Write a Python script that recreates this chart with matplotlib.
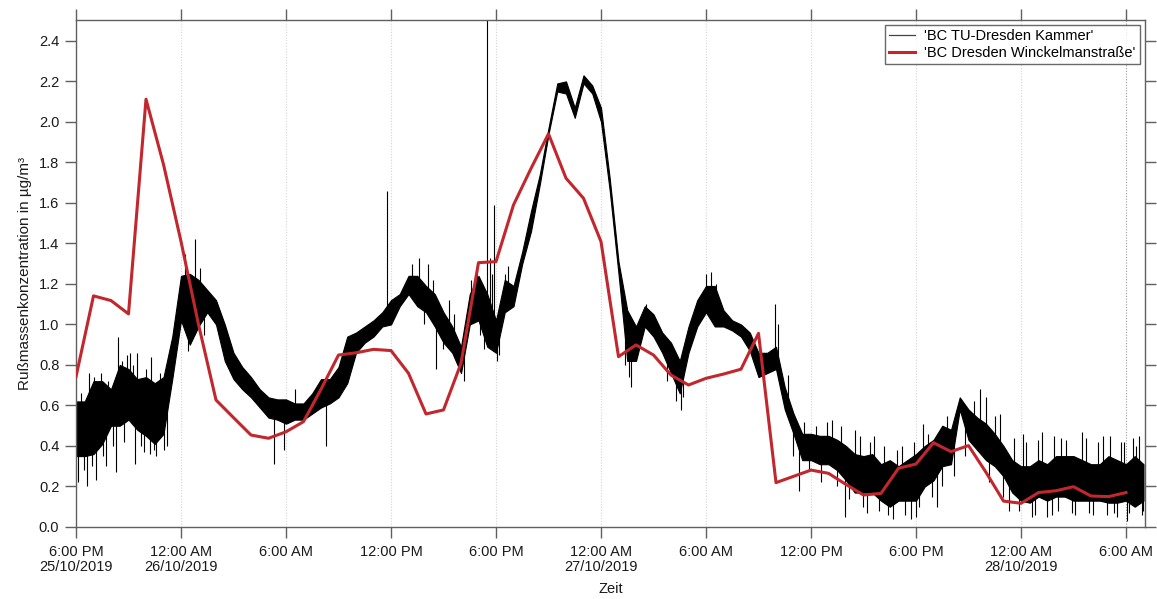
import matplotlib
matplotlib.use("Agg")
import matplotlib.pyplot as plt
import numpy as np

plt.rcParams['font.family'] = ['Liberation Sans', 'DejaVu Sans']

# ---- data (hours since 25/10/2019 18:00) ----
# 'BC TU-Dresden Kammer' : dense noisy trace, read as low/high envelope every 30 min
kammer_h = [i * 0.5 for i in range(123)]
kammer_low = [0.35, 0.35, 0.36, 0.41, 0.50, 0.50, 0.53, 0.48, 0.45, 0.41,
              0.46, 0.73, 1.02, 0.90, 0.99, 1.06, 1.00, 0.82, 0.73, 0.68,
              0.64, 0.59, 0.54, 0.53, 0.51, 0.53, 0.53, 0.56, 0.59, 0.61,
              0.64, 0.71, 0.86, 0.91, 0.94, 0.99, 1.00, 1.09, 1.15, 1.09,
              1.06, 0.99, 0.91, 0.86, 0.76, 1.00, 1.02, 0.89, 0.86, 1.06,
              1.09, 1.30, 1.46, 1.69, 1.94, 2.15, 2.14, 2.02, 2.19, 2.14,
              2.00, 1.66, 1.25, 0.82, 0.82, 0.99, 0.94, 0.86, 0.76, 0.66,
              0.86, 0.99, 1.06, 0.99, 0.99, 0.97, 0.94, 0.87, 0.74, 0.76,
              0.78, 0.58, 0.46, 0.33, 0.33, 0.31, 0.31, 0.28, 0.23, 0.17,
              0.17, 0.17, 0.13, 0.10, 0.13, 0.13, 0.13, 0.20, 0.23, 0.30,
              0.31, 0.58, 0.43, 0.38, 0.33, 0.30, 0.25, 0.17, 0.13, 0.12,
              0.15, 0.13, 0.15, 0.15, 0.13, 0.13, 0.13, 0.13, 0.12, 0.12,
              0.13, 0.10, 0.13]
kammer_high = [0.62, 0.62, 0.72, 0.72, 0.68, 0.80, 0.78, 0.73, 0.74, 0.71,
               0.74, 0.94, 1.24, 1.25, 1.22, 1.17, 1.12, 1.00, 0.86, 0.79,
               0.74, 0.68, 0.64, 0.63, 0.63, 0.61, 0.61, 0.66, 0.73, 0.73,
               0.79, 0.94, 0.96, 0.99, 1.02, 1.06, 1.12, 1.15, 1.24, 1.24,
               1.19, 1.15, 1.06, 0.99, 0.89, 1.15, 1.24, 1.15, 1.02, 1.22,
               1.19, 1.36, 1.56, 1.74, 1.97, 2.19, 2.20, 2.07, 2.23, 2.18,
               2.07, 1.72, 1.31, 1.07, 0.99, 1.09, 1.05, 0.96, 0.91, 0.82,
               0.99, 1.12, 1.19, 1.19, 1.07, 1.02, 1.00, 0.96, 0.86, 0.86,
               0.89, 0.69, 0.56, 0.46, 0.46, 0.45, 0.45, 0.43, 0.40, 0.36,
               0.35, 0.36, 0.31, 0.33, 0.30, 0.33, 0.36, 0.40, 0.43, 0.50,
               0.48, 0.64, 0.58, 0.54, 0.51, 0.46, 0.40, 0.33, 0.30, 0.30,
               0.33, 0.31, 0.35, 0.35, 0.35, 0.33, 0.31, 0.31, 0.35, 0.33,
               0.31, 0.35, 0.31]
# individual spikes of the Kammer trace beyond the dense band
spike_h = [0.1, 0.2, 0.3, 0.45, 0.6, 0.75, 0.9, 1.0, 1.15, 1.25, 1.4, 1.55, 1.7,
           1.85, 2.1, 2.3, 2.42, 2.6, 2.75, 2.9, 3.1, 3.25, 3.37, 3.5, 3.7,
           3.9, 4.0, 4.2, 4.3, 4.45, 4.6, 4.8, 5.0, 5.2,
           6.2, 6.4, 6.6, 6.8, 7.1, 7.3, 11.3, 11.9, 12.5, 14.3,
           17.75, 19.2, 19.6, 19.9, 20.1, 20.4, 20.6, 21.0, 21.3, 21.6, 22.2,
           22.6, 22.9, 23.1, 23.3, 23.51, 23.65, 23.75, 23.89, 24.05, 24.2,
           24.3, 24.5, 24.7,
           31.4, 31.6, 31.7, 31.8, 32.6, 33.8, 34.3, 34.6, 34.7, 35.7, 36.0,
           36.3, 36.6, 39.94, 40.1, 40.7, 41.0, 41.3, 41.6, 41.9,
           42.3, 42.6, 42.9, 43.2, 43.5, 43.7, 43.94, 44.2, 44.5, 44.8, 45.0,
           45.2, 45.4, 45.6, 45.9, 46.2, 46.4, 46.7, 46.9, 47.2, 47.4, 47.7,
           47.9, 48.0, 48.2, 48.4, 48.7, 48.9,
           49.2, 49.5, 49.8, 50.2, 50.8, 51.3, 51.66, 51.99, 52.2, 52.5, 52.8,
           53.0, 53.3, 53.6, 53.9, 54.1, 54.3, 54.6, 54.8, 55.0, 55.2, 55.5,
           55.8, 55.9, 56.1, 56.3, 56.6, 56.9, 57.1, 57.47, 57.7, 57.9, 58.1,
           58.4, 58.7, 58.9, 59.1, 59.3, 59.5, 59.7, 59.9, 60.04, 60.2, 60.4,
           60.6, 60.76, 60.9, 61.0]
spike_v = [0.22, 0.60, 0.66, 0.28, 0.20, 0.76, 0.30, 0.74, 0.23, 0.70, 0.76, 0.35, 0.30,
           0.72, 0.40, 0.27, 0.94, 0.82, 0.42, 0.85, 0.86, 0.80, 0.31, 0.86, 0.40,
           0.37, 0.78, 0.36, 0.84, 0.38, 0.35, 0.76, 0.38, 0.40,
           1.35, 0.87, 0.95, 1.42, 1.28, 0.95, 0.31, 0.38, 0.68, 0.40,
           1.66, 1.30, 1.33, 1.00, 1.30, 1.22, 0.78, 0.88, 1.12, 1.05, 0.72,
           1.22, 1.30, 0.95, 0.88, 2.55, 1.33, 1.25, 1.59, 0.82, 0.85,
           1.12, 1.25, 1.29,
           0.80, 0.74, 0.69, 1.02, 1.10, 0.72, 0.62, 0.58, 0.64, 1.15, 1.25,
           1.26, 1.20, 1.10, 1.00, 0.75, 0.35, 0.18, 0.52, 0.28,
           0.50, 0.22, 0.52, 0.53, 0.20, 0.50, 0.05, 0.14, 0.48, 0.45, 0.10,
           0.07, 0.42, 0.45, 0.08, 0.40, 0.06, 0.04, 0.38, 0.40, 0.06, 0.04,
           0.42, 0.05, 0.10, 0.51, 0.46, 0.15,
           0.10, 0.20, 0.55, 0.25, 0.35, 0.62, 0.68, 0.64, 0.22, 0.55, 0.56,
           0.15, 0.08, 0.44, 0.08, 0.46, 0.42, 0.05, 0.06, 0.43, 0.47, 0.05,
           0.06, 0.45, 0.08, 0.44, 0.43, 0.07, 0.06, 0.47, 0.44, 0.07, 0.06,
           0.42, 0.45, 0.06, 0.45, 0.07, 0.05, 0.42, 0.42, 0.03, 0.07, 0.44,
           0.40, 0.45, 0.06, 0.08]

# 'BC Dresden Winckelmanstraße' : hourly values
winckel_h = list(range(61))
winckel_v = [0.742, 1.141, 1.118, 1.052, 2.112, 1.79, 1.41, 1.00, 0.627, 0.54,
             0.454, 0.438, 0.47, 0.52, 0.68, 0.849, 0.86, 0.877, 0.871, 0.759,
             0.558, 0.578, 0.808, 1.305, 1.31, 1.59, 1.77, 1.941, 1.722, 1.623,
             1.409, 0.841, 0.899, 0.849, 0.75, 0.701, 0.734, 0.755, 0.779, 0.956,
             0.219, 0.25, 0.281, 0.265, 0.21, 0.158, 0.166, 0.29, 0.311, 0.416,
             0.372, 0.402, 0.27, 0.128, 0.117, 0.17, 0.179, 0.199, 0.153, 0.15,
             0.17]

tick_h = [0, 6, 12, 18, 24, 30, 36, 42, 48, 54, 60]
tick_labels = ["6:00 PM\n25/10/2019", "12:00 AM\n26/10/2019", "6:00 AM", "12:00 PM",
               "6:00 PM", "12:00 AM\n27/10/2019", "6:00 AM", "12:00 PM", "6:00 PM",
               "12:00 AM\n28/10/2019", "6:00 AM"]
y_ticks = [0.0, 0.2, 0.4, 0.6, 0.8, 1.0, 1.2, 1.4, 1.6, 1.8, 2.0, 2.2, 2.4]

# ---- figure ----
fig = plt.figure(figsize=(11.57, 5.99), dpi=100)
ax = fig.add_axes([76 / 1157, 1 - 527 / 599, (1145 - 76) / 1157, (527 - 20) / 599])

for t in tick_h:
    ax.axvline(t, color='#9a9a9a' if t == 60 else '#d4d4d4', lw=0.8,
               ls=(0, (1, 1.5)), zorder=0)

kh = np.array(kammer_h)
klo = np.array(kammer_low)
khi = np.array(kammer_high)
ax.fill_between(kh, klo, khi, color='black', lw=0.8, edgecolor='black', zorder=2)
mid = np.interp(spike_h, kh, (klo + khi) / 2)
ax.vlines(spike_h, mid, spike_v, color='black', lw=0.8, zorder=2)
ax.plot([], [], color='#444444', lw=0.9, label="'BC TU-Dresden Kammer'")

ax.plot(winckel_h, winckel_v, color='#c1272d', lw=2.2, zorder=3,
        label="'BC Dresden Winckelmanstraße'")

ax.set_xlim(0, (1145 - 76) / 17.5)
ax.set_ylim(0, 2.503)
ax.set_xticks(tick_h)
ax.set_xticklabels(tick_labels)
for lab in ax.get_xticklabels():
    lab.set_linespacing(1.05)
ax.set_yticks(y_ticks)
ax.set_yticklabels([f"{v:.1f}" for v in y_ticks])

ax.tick_params(axis='both', which='major', direction='out', length=8, width=1,
               color='#606060', labelsize=10.5, labelcolor='#1a1a1a')
ax.tick_params(axis='x', pad=5, top=True)
ax.tick_params(axis='y', pad=4, right=True)
for s in ax.spines.values():
    s.set_color('#606060')
    s.set_linewidth(1.0)

ax.set_ylabel("Rußmassenkonzentration in µg/m³", fontsize=11, color='#1a1a1a', labelpad=5)
ax.set_xlabel("Zeit", fontsize=10.5, color='#1a1a1a', labelpad=6)

leg = ax.legend(loc='upper right', fontsize=10.5, frameon=True, fancybox=False,
                borderaxespad=0.35, handlelength=1.8, handletextpad=0.6,
                borderpad=0.3, labelspacing=0.15)
leg.get_frame().set_edgecolor('#444444')
leg.get_frame().set_linewidth(1.0)

fig.savefig("out.png", dpi=100)
